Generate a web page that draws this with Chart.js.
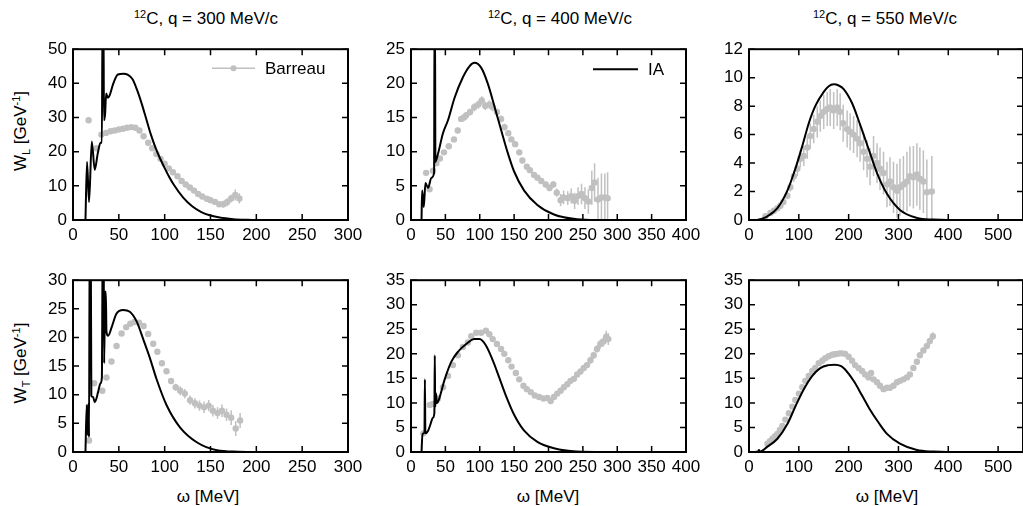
<!DOCTYPE html>
<html>
<head>
<meta charset="utf-8">
<script src="https://cdn.jsdelivr.net/npm/chart.js@4.4.0/dist/chart.umd.min.js"></script>
<style>
  body { margin: 0; background: #fff; width: 1023px; height: 506px; overflow: hidden; position: relative;
         font-family: "Liberation Sans", Arial, Helvetica, sans-serif; color: #000; }
  canvas { position: absolute; }
  .lbl { position: absolute; font-size: 17px; line-height: 1; white-space: nowrap; transform: translate(-50%, -50%); }
  .rot { transform: translate(-50%, -50%) rotate(-90deg); }
  sup { font-size: 11px; vertical-align: 0; position: relative; top: -0.55em; }
  sub { font-size: 11px; vertical-align: 0; position: relative; top: 0.35em; }
</style>
</head>
<body>
<div class="lbl" style="left:206px;top:18px"><sup>12</sup>C, q = 300 MeV/c</div>
<div class="lbl" style="left:560px;top:18px"><sup>12</sup>C, q = 400 MeV/c</div>
<div class="lbl" style="left:885px;top:18px"><sup>12</sup>C, q = 550 MeV/c</div>
<div class="lbl rot" style="left:20px;top:131px">W<sub>L</sub> [GeV<sup>-1</sup>]</div>
<div class="lbl rot" style="left:20px;top:363px">W<sub>T</sub> [GeV<sup>-1</sup>]</div>
<div class="lbl" style="left:208px;top:496px">ω [MeV]</div>
<div class="lbl" style="left:548px;top:496px">ω [MeV]</div>
<div class="lbl" style="left:887px;top:496px">ω [MeV]</div>
<script>
// ---- axes ----
const xMaxes = [300, 400, 550];
const xSteps = [50, 50, 100];
const yMaxL = [50, 25, 12];
const yStepL = [10, 5, 2];
const yMaxT = [30, 35, 35];
const yStepT = [5, 5, 5];

// ---- W_L, q = 300 MeV/c ----
const iaOmegaL300 = [13.6, 15.3, 17.5, 20.5, 23.7, 27, 30, 31.5, 32.2, 33.2, 33.8, 35, 36.2, 38, 40, 44, 49, 55, 60, 65, 70, 75, 80, 85, 90, 95, 100, 105, 110, 120, 130, 140, 150, 160, 175, 190, 200, 300];
const iaWL300 = [0, 17, 5.3, 23, 14.7, 19.5, 22.6, 22.6, 60, 60, 29.2, 31, 37, 35.8, 36.5, 40, 42.6, 42.8, 42.5, 41.2, 38, 34, 29.5, 25, 21.2, 18, 15.2, 12.6, 10.3, 6.6, 4, 2.3, 1.3, 0.7, 0.25, 0.06, 0, 0];
const barOmegaL300 = [17, 25.5, 31, 36, 41, 45.5, 50, 54.5, 59, 63.5, 68, 72.5, 77, 82, 86.5, 91, 95.5, 100, 104.5, 109, 114, 118.5, 123, 127.5, 132, 136.5, 141, 146, 150, 155, 159.5, 164, 168, 172.5, 177, 181.5];
const barWL300 = [29.2, 21, 25, 25.5, 26, 26.2, 26.5, 26.7, 27, 27.2, 27, 26.2, 24.5, 22.6, 21, 19.3, 17.9, 16.5, 15.1, 14, 12.8, 11.4, 10.4, 9.5, 8.6, 7.6, 6.9, 6.2, 5.8, 5.3, 4.6, 4.6, 5.2, 6.3, 7.3, 6.3];
const barErrL300 = [0.3, 0.3, 0.3, 0.3, 0.3, 0.3, 0.3, 0.3, 0.3, 0.3, 0.3, 0.3, 0.3, 0.3, 0.3, 0.3, 0.4, 0.4, 0.4, 0.4, 0.4, 0.4, 0.4, 0.4, 0.4, 0.4, 0.5, 0.5, 0.6, 0.7, 0.8, 1.0, 1.2, 1.2, 1.6, 1.5];

// ---- W_L, q = 400 MeV/c ----
const iaOmegaL400 = [15.3, 16.2, 18.6, 21, 24.9, 29.7, 33.6, 34.2, 34.9, 35.5, 39.3, 46.5, 53.8, 63.4, 75.5, 85, 92.3, 102, 111.6, 121.2, 131, 140.5, 150, 164.6, 183.8, 208, 241.6, 270, 400];
const iaWL400 = [0, 4.3, 1.9, 5.4, 4.7, 6.2, 6.9, 30, 30, 8.5, 9.7, 12.7, 14.6, 17.9, 20.9, 22.5, 23, 22.3, 20, 16.7, 13.2, 9.9, 7.1, 4.3, 2.2, 0.8, 0.1, 0, 0];
const barOmegaL400 = [22, 27, 32, 37, 42, 48, 55, 62.5, 68, 73, 77, 80, 86, 92, 98, 103, 108, 114, 119, 125, 131, 136, 141.5, 146, 151.5, 157.5, 162, 168.5, 173, 179, 184, 189.5, 196, 201.5, 207, 212, 217.5, 222, 228, 233, 238, 243, 248, 253, 258, 263, 267, 272, 277, 282, 286];
const barWL400 = [6.9, 4.5, 7.2, 8.3, 9, 9.9, 10.8, 11.8, 13.1, 14.8, 15, 15.3, 15.8, 16.5, 16.9, 17.5, 16.7, 16.9, 16.5, 15.8, 14.8, 13.6, 12.7, 11.8, 11.1, 9.9, 8.7, 7.8, 7.3, 6.6, 6.2, 5.7, 5.2, 4.7, 5.2, 4, 2.9, 3.3, 3.2, 3.5, 2.8, 3.5, 3.8, 3.2, 2.7, 4.7, 5.5, 3, 3.3, 3.3, 3.2];
const barErrL400 = [0.3, 0.3, 0.3, 0.3, 0.3, 0.3, 0.3, 0.3, 0.4, 0.4, 0.5, 0.5, 0.5, 0.6, 0.6, 0.6, 0.6, 0.6, 0.6, 0.5, 0.5, 0.5, 0.4, 0.4, 0.4, 0.4, 0.4, 0.4, 0.4, 0.4, 0.4, 0.4, 0.4, 0.5, 0.5, 0.6, 0.9, 1.0, 1.0, 1.1, 1.2, 1.3, 1.5, 1.6, 1.8, 2.5, 2.8, 3.2, 3.5, 3.5, 3.8];

// ---- W_L, q = 550 MeV/c ----
const iaOmegaL550 = [15, 25, 37, 57, 77, 93, 107, 120, 133, 150, 160, 170, 180, 190, 207, 223, 240, 257, 277, 303, 337, 370, 400, 550];
const iaWL550 = [0, 0.08, 0.26, 0.83, 2.06, 3.6, 5.2, 6.8, 8.0, 9.0, 9.4, 9.53, 9.45, 9.2, 8.2, 6.7, 5.0, 3.3, 1.84, 0.71, 0.15, 0.03, 0, 0];
const barOmegaL550 = [33, 43, 50, 57, 63, 69, 77, 83, 90, 97, 103, 110, 117, 123, 130, 137, 143, 150, 157, 163, 170, 177, 183, 189, 197, 203, 210, 217, 223, 230, 237, 243, 250, 257, 263, 270, 277, 283, 290, 297, 303, 310, 317, 323, 330, 337, 343, 350, 357, 367];
const barWL550 = [0.27, 0.5, 0.65, 0.83, 1.0, 1.27, 1.7, 2.3, 3.07, 3.6, 4.3, 4.5, 5.1, 5.9, 6.4, 6.9, 7.3, 7.6, 7.8, 7.9, 7.7, 7.9, 7.6, 6.8, 6.4, 6.2, 6.0, 5.7, 5.4, 4.8, 4.3, 3.75, 4.5, 4.0, 3.6, 3.3, 2.5, 2.7, 2.3, 2.06, 2.3, 2.5, 2.7, 3.07, 3.0, 3.2, 2.9, 2.7, 1.95, 2.0];
const barErrL550 = [0.15, 0.15, 0.15, 0.15, 0.2, 0.2, 0.25, 0.3, 0.4, 0.5, 0.6, 0.7, 0.8, 0.9, 1.0, 1.1, 1.1, 1.2, 1.2, 1.3, 1.3, 1.3, 1.3, 1.3, 1.3, 1.3, 1.3, 1.3, 1.3, 1.3, 1.3, 1.3, 1.4, 1.4, 1.5, 1.5, 1.6, 1.7, 1.8, 1.9, 2.0, 2.0, 2.1, 2.1, 2.2, 2.2, 2.2, 2.2, 2.3, 2.5];

// ---- W_T, q = 300 MeV/c ----
const iaOmegaT300 = [13.6, 15, 16, 17, 17.5, 18.2, 19.3, 20, 21.9, 23.7, 25.5, 27.4, 30, 31.5, 32.5, 33.3, 34, 35, 35.8, 36.5, 38.3, 42, 47.5, 54.7, 62, 69.4, 76.6, 83.9, 91.2, 102, 116.7, 135, 157, 180, 200, 300];
const iaWT300 = [0, 8.2, 3, 8.5, 2.6, 40, 40, 9.8, 9.6, 8.7, 9.3, 10.5, 12, 13, 40, 40, 15.5, 28, 28, 21, 20.3, 21.7, 24.2, 24.8, 24.5, 22.8, 19.7, 16.4, 12.7, 8.2, 4.3, 1.7, 0.3, 0.05, 0, 0];
const barOmegaT300 = [17.5, 23, 32, 36.5, 42, 47.5, 53, 58, 62.5, 67, 72, 77, 82, 87.5, 92, 97, 102, 107, 112, 117, 122, 127.7, 133, 138, 143, 148, 152.6, 157.7, 162.5, 167.5, 172.6, 177.5, 182.3];
const barWT300 = [2, 12, 10.7, 13, 15.8, 18.5, 20.7, 21.8, 22.4, 22.7, 22.6, 22, 20.6, 18.9, 17.5, 15.5, 14.1, 12.4, 11.3, 10.7, 10.2, 9.05, 8.5, 8.1, 7.8, 8.1, 7.2, 6.8, 7.2, 6.5, 6, 4.1, 5.5];
const barErrT300 = [0.2, 0.3, 0.3, 0.3, 0.3, 0.3, 0.3, 0.3, 0.3, 0.3, 0.3, 0.3, 0.3, 0.3, 0.3, 0.3, 0.4, 0.5, 0.6, 0.8, 0.8, 0.8, 0.9, 0.9, 1.0, 1.0, 1.0, 1.0, 1.1, 1.1, 1.3, 1.3, 1.3];

// ---- W_T, q = 400 MeV/c ----
const iaOmegaT400 = [15.3, 16.7, 19.6, 20.2, 20.9, 24.9, 28, 32, 34, 34.6, 35.2, 36.5, 37.5, 39.3, 49, 58.7, 68.2, 80.3, 92.3, 99.6, 109, 118.8, 128.5, 138, 150, 164.6, 183.8, 208, 241, 280, 400];
const iaWT400 = [0, 3.7, 4, 14.8, 3.8, 4.35, 5.5, 7, 8, 19.7, 9.2, 11.9, 10, 10.2, 14.8, 18.4, 20.4, 22, 23, 23, 21.7, 18.7, 15.1, 11.5, 7.6, 4.35, 2.06, 0.76, 0.1, 0, 0];
const barOmegaT400 = [18, 27.3, 32, 39.3, 46.5, 53.8, 61, 68.2, 75.5, 82.7, 87.6, 94.8, 102, 109, 114, 118.8, 125, 131, 135.7, 141.5, 146.3, 152.5, 157.4, 163.6, 168.5, 174.3, 180, 186.4, 192.6, 198.4, 203.2, 208, 212.8, 217.6, 222.4, 227.3, 232, 236.9, 241.7, 246.5, 251.3, 256, 261, 265.8, 270.6, 275.4, 280, 284, 287];
const barWT400 = [3.8, 9.6, 9.8, 10.9, 13.2, 15.5, 17.7, 19.7, 21.4, 22.3, 23.6, 24.3, 24.3, 24.7, 24, 23, 22, 21, 20, 18.7, 17.4, 16.1, 14.8, 13.5, 12.8, 12.2, 11.5, 11.2, 10.9, 11, 10.4, 11.2, 11.9, 12.5, 13.2, 13.8, 14.5, 14.9, 15.8, 16.4, 17.1, 17.7, 18.7, 19.7, 21, 22, 22.5, 23.5, 23];
const barErrT400 = [0.3, 0.3, 0.3, 0.3, 0.3, 0.3, 0.3, 0.3, 0.3, 0.3, 0.3, 0.3, 0.3, 0.3, 0.3, 0.3, 0.3, 0.3, 0.3, 0.3, 0.3, 0.3, 0.3, 0.3, 0.3, 0.3, 0.3, 0.3, 0.3, 0.3, 0.4, 0.4, 0.4, 0.4, 0.4, 0.4, 0.4, 0.4, 0.4, 0.4, 0.6, 0.6, 0.7, 0.7, 0.8, 0.9, 1.0, 1.2, 1.2];

// ---- W_T, q = 550 MeV/c ----
const iaOmegaT550 = [10, 18, 20, 22, 37, 57, 77, 93, 110, 127, 143, 160, 172, 185, 193, 210, 227, 243, 260, 277, 303, 337, 370, 400, 550];
const iaWT550 = [0, 0.1, 0.4, 0.1, 1.1, 2.7, 5.7, 9.25, 12.8, 15.5, 17.1, 17.7, 17.8, 17.5, 16.8, 14.5, 11.5, 8.6, 6.0, 3.7, 1.7, 0.4, 0.08, 0, 0];
const barOmegaT550 = [37, 42, 47, 52, 57, 62, 67, 73, 80, 87, 93, 100, 107, 113, 120, 127, 133, 140, 147, 153, 160, 167, 172, 177, 182, 187, 193, 200, 207, 213, 220, 227, 233, 240, 245, 250, 257, 263, 270, 277, 283, 290, 297, 303, 310, 317, 323, 330, 337, 343, 350, 357, 363, 369];
const barWT550 = [1.7, 2.2, 2.7, 3.2, 3.7, 4.5, 5.3, 6.6, 7.9, 9.25, 10.6, 11.9, 13.2, 14.5, 15.5, 16.5, 17.1, 18.1, 18.6, 19.1, 19.5, 19.8, 19.9, 20, 20.1, 20.1, 20, 19.4, 18.6, 17.7, 17.1, 16.5, 15.8, 15.2, 16.1, 14.8, 14.2, 13.5, 12.8, 13.1, 13.1, 13.5, 14.2, 14.5, 14.8, 15.2, 15.8, 17.1, 18.4, 19.7, 20.7, 21.6, 22.6, 23.6];
const barErrT550 = [0.3, 0.3, 0.3, 0.3, 0.3, 0.3, 0.3, 0.3, 0.3, 0.3, 0.3, 0.3, 0.3, 0.3, 0.3, 0.3, 0.3, 0.3, 0.3, 0.3, 0.3, 0.3, 0.3, 0.3, 0.3, 0.3, 0.3, 0.3, 0.3, 0.3, 0.3, 0.3, 0.3, 0.3, 0.3, 0.3, 0.3, 0.3, 0.3, 0.3, 0.3, 0.3, 0.3, 0.3, 0.4, 0.4, 0.4, 0.5, 0.5, 0.5, 0.6, 0.6, 0.7, 0.8];

const FONT = '"Liberation Sans", Arial, Helvetica, sans-serif';
const GRAY = '#c0c0c0';
const Y_AXIS_W = 46, X_AXIS_H = 30, PAD_TOP = 10, PAD_RIGHT = 20;

// box around the plot area + ticks pointing inwards on all four sides
const framePlugin = {
  id: 'frame',
  afterDatasetsDraw(chart) {
    const { ctx, chartArea: a, scales: { x, y } } = chart;
    ctx.save();
    ctx.strokeStyle = '#000';
    ctx.lineWidth = 2;
    ctx.strokeRect(a.left, a.top, a.right - a.left, a.bottom - a.top);
    ctx.lineWidth = 1.5;
    ctx.beginPath();
    x.ticks.forEach(t => {
      const px = x.getPixelForValue(t.value);
      ctx.moveTo(px, a.bottom); ctx.lineTo(px, a.bottom - 6);
      ctx.moveTo(px, a.top); ctx.lineTo(px, a.top + 6);
    });
    y.ticks.forEach(t => {
      const py = y.getPixelForValue(t.value);
      ctx.moveTo(a.left, py); ctx.lineTo(a.left + 6, py);
      ctx.moveTo(a.right, py); ctx.lineTo(a.right - 6, py);
    });
    ctx.stroke();
    ctx.restore();
  }
};

const errorBars = {
  id: 'errorBars',
  beforeDatasetsDraw(chart, args, opts) {
    const { ctx, chartArea: a, scales: { x, y } } = chart;
    const pts = chart.data.datasets[1].data;
    ctx.save();
    ctx.beginPath();
    ctx.rect(a.left, a.top, a.right - a.left, a.bottom - a.top);
    ctx.clip();
    ctx.strokeStyle = GRAY;
    ctx.lineWidth = 1.5;
    ctx.beginPath();
    pts.forEach((p, i) => {
      const px = x.getPixelForValue(p.x);
      ctx.moveTo(px, y.getPixelForValue(p.y - opts.errors[i]));
      ctx.lineTo(px, y.getPixelForValue(p.y + opts.errors[i]));
    });
    ctx.stroke();
    ctx.restore();
  }
};

// gnuplot-like key in the top right corner
const keyPlugin = {
  id: 'key',
  afterDraw(chart, args, opts) {
    if (!opts.label) return;
    const { ctx, chartArea: a } = chart;
    const y0 = a.top + opts.dy;
    ctx.save();
    ctx.strokeStyle = opts.color;
    ctx.lineWidth = opts.lineWidth;
    ctx.beginPath();
    ctx.moveTo(a.right + opts.x1, y0);
    ctx.lineTo(a.right + opts.x2, y0);
    ctx.stroke();
    if (opts.point) {
      ctx.fillStyle = opts.color;
      ctx.beginPath();
      ctx.arc(a.right + (opts.x1 + opts.x2) / 2, y0, 3, 0, Math.PI * 2);
      ctx.fill();
    }
    ctx.fillStyle = '#000';
    ctx.font = '17px ' + FONT;
    ctx.textBaseline = 'middle';
    ctx.fillText(opts.label, a.right + opts.tx, y0 + 1);
    ctx.restore();
  }
};

function toPoints(xs, ys) {
  return xs.map((x, i) => ({ x: x, y: ys[i] }));
}

function panel(box, xMax, xStep, yMax, yStep, iaX, iaY, barX, barY, barErr, key) {
  const canvas = document.createElement('canvas');
  canvas.width = box.r - box.l + Y_AXIS_W + PAD_RIGHT;
  canvas.height = box.b - box.t + PAD_TOP + X_AXIS_H;
  canvas.style.left = (box.l - Y_AXIS_W) + 'px';
  canvas.style.top = (box.t - PAD_TOP) + 'px';
  document.body.appendChild(canvas);

  new Chart(canvas, {
    type: 'scatter',
    data: {
      datasets: [
        {
          label: 'IA',
          data: toPoints(iaX, iaY),
          showLine: true,
          borderColor: '#000',
          borderWidth: 2,
          pointRadius: 0,
          cubicInterpolationMode: 'monotone',
        },
        {
          label: 'Barreau',
          data: toPoints(barX, barY),
          showLine: false,
          pointRadius: 3.2,
          pointBorderWidth: 0,
          pointBackgroundColor: GRAY,
          pointBorderColor: GRAY,
        },
      ],
    },
    options: {
      responsive: false,
      animation: false,
      layout: { padding: { top: PAD_TOP, right: PAD_RIGHT, left: 0, bottom: 0 } },
      plugins: {
        legend: { display: false },
        tooltip: { enabled: false },
        errorBars: { errors: barErr },
        key: key || {},
      },
      scales: {
        x: {
          type: 'linear',
          min: 0,
          max: xMax,
          grid: { display: false, drawTicks: false },
          border: { display: false },
          ticks: {
            stepSize: xStep,
            includeBounds: false,
            autoSkip: false,
            maxRotation: 0,
            minRotation: 0,
            padding: 5,
            color: '#000',
            font: { family: FONT, size: 17 },
          },
          afterFit: (s) => { s.height = X_AXIS_H; },
        },
        y: {
          type: 'linear',
          min: 0,
          max: yMax,
          grid: { display: false, drawTicks: false },
          border: { display: false },
          ticks: {
            stepSize: yStep,
            autoSkip: false,
            padding: 6,
            color: '#000',
            font: { family: FONT, size: 17 },
          },
          afterFit: (s) => { s.width = Y_AXIS_W; },
        },
      },
    },
    plugins: [errorBars, framePlugin, keyPlugin],
  });
}

const topBoxes = [
  { l: 73, r: 348, t: 43, b: 220 },
  { l: 411, r: 686, t: 43, b: 220 },
  { l: 749, r: 1023, t: 43, b: 220 },
];
const bottomBoxes = [
  { l: 73, r: 348, t: 274, b: 452 },
  { l: 411, r: 686, t: 274, b: 452 },
  { l: 749, r: 1023, t: 274, b: 452 },
];

panel(topBoxes[0], xMaxes[0], xSteps[0], yMaxL[0], yStepL[0], iaOmegaL300, iaWL300, barOmegaL300, barWL300, barErrL300,
  { label: 'Barreau', color: GRAY, lineWidth: 1.5, point: true, x1: -136, x2: -93, tx: -83, dy: 19 });
panel(topBoxes[1], xMaxes[1], xSteps[1], yMaxL[1], yStepL[1], iaOmegaL400, iaWL400, barOmegaL400, barWL400, barErrL400,
  { label: 'IA', color: '#000', lineWidth: 2, point: false, x1: -93, x2: -48, tx: -38, dy: 20 });
panel(topBoxes[2], xMaxes[2], xSteps[2], yMaxL[2], yStepL[2], iaOmegaL550, iaWL550, barOmegaL550, barWL550, barErrL550);
panel(bottomBoxes[0], xMaxes[0], xSteps[0], yMaxT[0], yStepT[0], iaOmegaT300, iaWT300, barOmegaT300, barWT300, barErrT300);
panel(bottomBoxes[1], xMaxes[1], xSteps[1], yMaxT[1], yStepT[1], iaOmegaT400, iaWT400, barOmegaT400, barWT400, barErrT400);
panel(bottomBoxes[2], xMaxes[2], xSteps[2], yMaxT[2], yStepT[2], iaOmegaT550, iaWT550, barOmegaT550, barWT550, barErrT550);
</script>
</body>
</html>
